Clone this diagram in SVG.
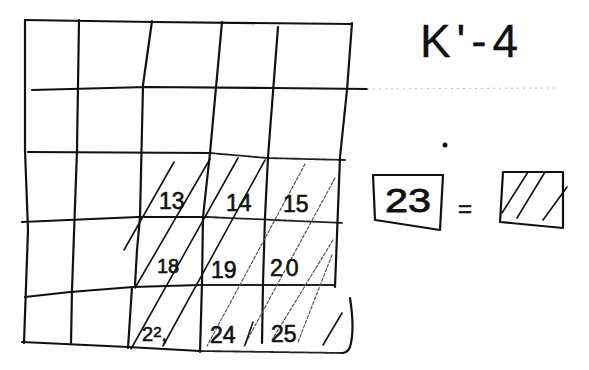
<svg xmlns="http://www.w3.org/2000/svg" width="589" height="370" viewBox="0 0 589 370">
<style>
.g{fill:none;stroke:#111;stroke-width:2.2;stroke-linecap:round;stroke-linejoin:round}
.gd{fill:none;stroke:#222;stroke-width:1.8;stroke-dasharray:5 1.2;stroke-linecap:round}
.h{fill:none;stroke:#111;stroke-width:1.6;stroke-linecap:round}
.hf{fill:none;stroke:#555;stroke-width:1.2;stroke-dasharray:3 2;stroke-linecap:round}
.faint{fill:none;stroke:#bbb;stroke-width:1;stroke-dasharray:2 4}
.t{font-family:"Liberation Sans",Arial,sans-serif;font-size:23px;fill:#111;stroke:#111;stroke-width:0.6}
</style>
<rect width="589" height="370" fill="#fff"/>
<g id="grid">
  <polyline class="g" points="25,20 153,22 352,24"/>
  <polyline class="g" points="32,90 147,87 273,88 367,89"/>
  <polyline class="faint" points="367,89 557,88"/>
  <polyline class="g" points="28,152 210,153"/>
  <polyline class="gd" points="210,153 267,158 345,160"/>
  <polyline class="g" points="22,222 138,217 207,217"/>
  <polyline class="gd" points="207,217 343,223"/>
  <polyline class="g" points="25,297 70,292 133,287 200,285"/>
  <polyline class="gd" points="200,285 335,285"/>
  <polyline class="g" points="22,342 128,347 200,351"/>
  <polyline class="gd" points="200,351 343,353"/>
  <polyline class="g" points="25,20 25,150 28,230 24,343"/>
  <polyline class="g" points="79,20 77,150 72,290 71,343"/>
  <polyline class="g" points="152,21 143,85 140,217 137,250 135,285"/>
  <polyline class="g" points="132,287 128,348"/>
  <polyline class="g" points="222,22 210,153 203,217 202,283 200,352"/>
  <polyline class="g" points="278,27 268,157 265,217 263,283 262,343"/>
  <polyline class="g" points="352,23 347,90 340,157 335,287"/>
  <path class="g" d="M350,298 Q355,330 350,347 Q348,352 343,353"/>
</g>
<g id="hatching">
  <line class="h" x1="174" y1="162" x2="124" y2="250"/>
  <line class="h" x1="210" y1="159" x2="135" y2="288"/>
  <line class="h" x1="238" y1="158" x2="131" y2="349"/>
  <line class="h" x1="265" y1="160" x2="163" y2="346"/>
  <line class="hf" x1="305" y1="164" x2="207" y2="346"/>
  <line class="hf" x1="335" y1="178" x2="244" y2="346"/>
  <line class="h" x1="253" y1="322" x2="245" y2="345"/>
  <line class="hf" x1="333" y1="240" x2="272" y2="340"/>
  <line class="hf" x1="332" y1="255" x2="298" y2="342"/>
  <line class="h" x1="342" y1="313" x2="323" y2="345"/>
</g>
<g id="cell-labels">
  <text class="t" x="159" y="209">13</text>
  <text class="t" x="226" y="211">14</text>
  <text class="t" x="283" y="212">15</text>
  <text class="t" x="157" y="273" style="font-size:20px">18</text>
  <text class="t" x="211" y="278">19</text>
  <text class="t" x="270" y="276" letter-spacing="3">20</text>
  <text class="t" x="142" y="341" style="font-size:20px">2<tspan dy="-4" style="font-size:15px">2</tspan><tspan dy="4">,</tspan></text>
  <text class="t" x="210" y="343">24</text>
  <text class="t" x="271" y="342">25</text>
</g>
<g id="title">
  <text class="t" x="420" y="57" style="font-size:46px;stroke-width:0.3" textLength="98" lengthAdjust="spacing">K'-4</text>
  <circle cx="445" cy="145" r="2.5" fill="#111"/>
</g>
<g id="legend-box-23">
  <polyline class="g" points="373,175 443,175 440,230 382,221 375,220 373,175"/>
  <text class="t" x="385" y="212" style="font-size:34px;stroke-width:0.8" textLength="46" lengthAdjust="spacingAndGlyphs">23</text>
</g>
<g id="equals">
  <text class="t" x="458" y="217" style="font-size:24px">=</text>
</g>
<g id="legend-hatched">
  <polyline class="g" points="503,172 563,172 563,228 500,222 503,172"/>
  <line class="h" x1="528" y1="172" x2="502" y2="213"/>
  <line class="h" x1="545" y1="172" x2="517" y2="218"/>
  <line class="h" x1="567" y1="187" x2="543" y2="220"/>
</g>
</svg>
